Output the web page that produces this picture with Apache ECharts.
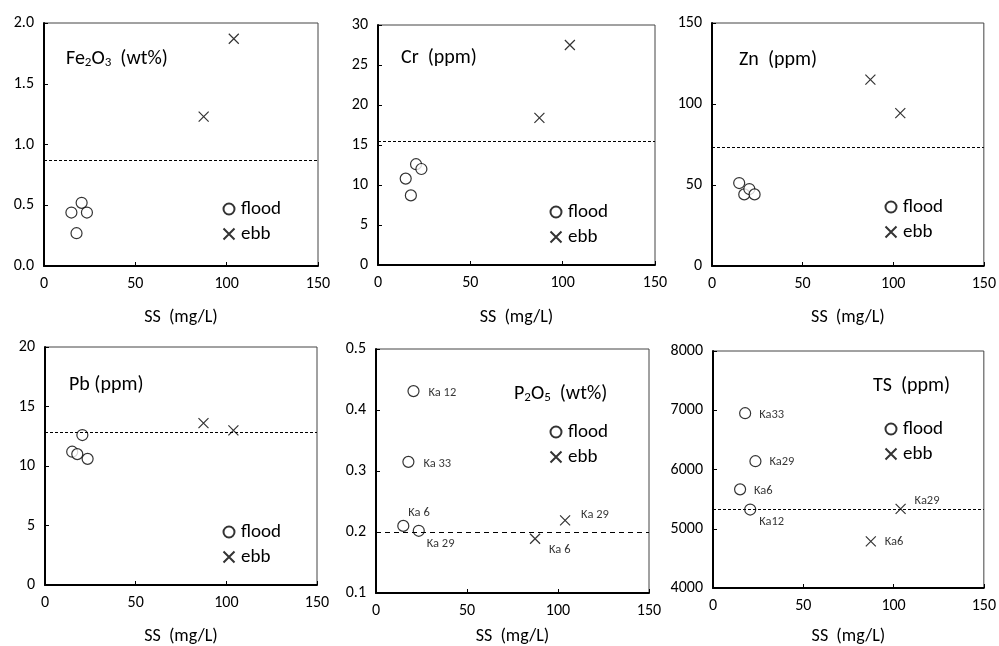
<!DOCTYPE html>
<html>
<head>
<meta charset="utf-8">
<script src="https://cdn.jsdelivr.net/npm/echarts@6/dist/echarts.min.js"></script>
<style>
  html, body { margin: 0; padding: 0; background: #fff; }
  #chart { width: 999px; height: 646px; }
</style>
</head>
<body>
<div id="chart"></div>
<script>
// SS (mg/L) of samples: flood = Ka6, Ka33, Ka12, Ka29 ; ebb = Ka6, Ka29
let ssFlood = [15.0, 17.8, 20.6, 23.5];
let ssEbb = [87.4, 103.9];
let xTicks = [0, 50, 100, 150];

let fe2o3Flood = [0.44, 0.27, 0.52, 0.44];
let fe2o3Ebb = [1.23, 1.87];
let fe2o3Ref = 0.87;

let crFlood = [10.8, 8.7, 12.6, 12.0];
let crEbb = [18.4, 27.5];
let crRef = 15.5;

let znFlood = [51.2, 44.2, 47.5, 44.2];
let znEbb = [115, 94.4];
let znRef = 73.3;

let pbFlood = [11.2, 11.0, 12.6, 10.6];
let pbEbb = [13.6, 13.0];
let pbRef = 12.8;

let p2o5Flood = [0.210, 0.315, 0.431, 0.202];
let p2o5Ebb = [0.189, 0.219];
let p2o5Ref = 0.2;
let p2o5FloodNames = ["Ka 6", "Ka 33", "Ka 12", "Ka 29"];
let p2o5EbbNames = ["Ka 6", "Ka 29"];

let tsFlood = [5665, 6950, 5324, 6140];
let tsEbb = [4788, 5335];
let tsRef = 5335;
let tsFloodNames = ["Ka6", "Ka33", "Ka12", "Ka29"];
let tsEbbNames = ["Ka6", "Ka29"];

// y tick settings per panel
let yMin = [0, 0, 0, 0, 0.1, 4000];
let yMax = [2, 30, 150, 20, 0.5, 8000];
let yStep = [0.5, 5, 50, 5, 0.1, 1000];

const FONT = "Carlito, Calibri, Lato, 'Noto Sans', sans-serif";
const CROSS = "path://M0,0L10,10M10,0L0,10";

// layout of the six plot boxes
let grids = [
  { left: 44, top: 23, width: 274, height: 243 },
  { left: 378, top: 25, width: 277, height: 240 },
  { left: 712, top: 23, width: 272, height: 243 },
  { left: 45, top: 347, width: 272, height: 241 },
  { left: 376, top: 349, width: 273, height: 244 },
  { left: 713, top: 351, width: 273, height: 238 },
];
let nameGaps = [42, 43, 42, 42, 34, 39];
let legendPos = [[228, 209], [555, 212], [890, 207], [228, 532], [555, 432], [890, 429]];
let titlePos = [[66, 57], [401, 56], [739, 58], [69, 383], [514, 392], [873, 384]];
let titleText = [
  "{n|Fe}{s|2}{n|O}{s|3}{n|  (wt%)}",
  "{n|Cr  (ppm)}",
  "{n|Zn  (ppm)}",
  "{n|Pb (ppm)}",
  "{n|P}{s|2}{n|O}{s|5}{n|  (wt%)}",
  "{n|TS  (ppm)}",
];

// label offsets (text left edge / middle, from point centre)
let p2o5FloodOff = [[5, -13], [15, 2], [15, 2], [8, 13]];
let p2o5EbbOff = [[14, 11], [16, -6]];
let tsFloodOff = [[14, 2], [14, 2], [9, 12], [14, 1]];
let tsEbbOff = [[14, 1], [14, -8]];

let floodVals = [fe2o3Flood, crFlood, znFlood, pbFlood, p2o5Flood, tsFlood];
let ebbVals = [fe2o3Ebb, crEbb, znEbb, pbEbb, p2o5Ebb, tsEbb];
let refVals = [fe2o3Ref, crRef, znRef, pbRef, p2o5Ref, tsRef];

function makeData(xs, ys, names, offs) {
  return xs.map(function (x, i) {
    let item = { value: [x, ys[i]] };
    if (names) {
      item.name = names[i];
      item.label = {
        show: true,
        position: "inside",
        align: "left",
        verticalAlign: "middle",
        offset: offs[i],
        formatter: "{b}",
        color: "#000",
        fontSize: 12.5,
        fontFamily: FONT,
      };
    }
    return item;
  });
}

let chart = echarts.init(document.getElementById("chart"));
let option = {
  animation: false,
  backgroundColor: "#fff",
  textStyle: { fontFamily: FONT },
  graphic: [],
  legend: [],
  grid: [],
  xAxis: [],
  yAxis: [],
  series: [],
};

for (let i = 0; i < 6; i++) {
  option.grid.push(Object.assign({ show: true, borderColor: "#444", borderWidth: 1 }, grids[i]));

  // panel title (with subscripts)
  option.graphic.push({
    type: "text",
    x: titlePos[i][0],
    y: titlePos[i][1],
    z: 10,
    style: {
      text: titleText[i],
      fill: "#000",
      align: "left",
      verticalAlign: "middle",
      rich: {
        n: { fontSize: 20, fontFamily: FONT, fill: "#000", lineHeight: 24, verticalAlign: "bottom" },
        s: { fontSize: 13, fontFamily: FONT, fill: "#000", lineHeight: 10, verticalAlign: "bottom" },
      },
    },
  });

  option.legend.push({
    orient: "vertical",
    left: legendPos[i][0] - 7,
    top: legendPos[i][1] - 11,
    padding: 0,
    itemGap: 3,
    itemWidth: 14,
    itemHeight: 11,
    data: ["flood", "ebb"],
    textStyle: { fontSize: 19, fontFamily: FONT, color: "#000", lineHeight: 22 },
  });

  option.xAxis.push({
    type: "value",
    gridIndex: i,
    min: xTicks[0],
    max: xTicks[xTicks.length - 1],
    interval: 50,
    name: "SS  (mg/L)",
    nameLocation: "middle",
    nameGap: nameGaps[i],
    nameTextStyle: { fontSize: 18, color: "#000", fontFamily: FONT },
    axisLine: { show: true, lineStyle: { color: "#000", width: 2 } },
    axisTick: { show: true, inside: true, length: 4, lineStyle: { color: "#000" } },
    axisLabel: { fontSize: 16, color: "#000", margin: 10, fontFamily: FONT },
    splitLine: { show: false },
  });

  option.yAxis.push({
    type: "value",
    gridIndex: i,
    min: yMin[i],
    max: yMax[i],
    interval: yStep[i],
    axisLine: { show: true, lineStyle: { color: "#000", width: 2 } },
    axisTick: { show: true, inside: true, length: 4, lineStyle: { color: "#000" } },
    axisLabel: {
      fontSize: 16,
      color: "#000",
      margin: 10,
      fontFamily: FONT,
      formatter: i === 0 ? function (v) { return v.toFixed(1); } : function (v) { return String(v); },
    },
    splitLine: { show: false },
  });

  let fNames = null, eNames = null, fOff = null, eOff = null;
  if (i === 4) { fNames = p2o5FloodNames; eNames = p2o5EbbNames; fOff = p2o5FloodOff; eOff = p2o5EbbOff; }
  if (i === 5) { fNames = tsFloodNames; eNames = tsEbbNames; fOff = tsFloodOff; eOff = tsEbbOff; }

  option.series.push({
    name: "flood",
    type: "scatter",
    xAxisIndex: i,
    yAxisIndex: i,
    symbol: "circle",
    symbolSize: 11,
    itemStyle: { color: "#fff", borderColor: "#000", borderWidth: 1.2 },
    data: makeData(ssFlood, floodVals[i], fNames, fOff),
    markLine: {
      silent: true,
      symbol: "none",
      label: { show: false },
      lineStyle: { color: "#000", width: 1, type: i === 4 ? [5, 4] : [3, 2] },
      data: [{ yAxis: refVals[i] }],
    },
  });
  option.series.push({
    name: "ebb",
    type: "scatter",
    xAxisIndex: i,
    yAxisIndex: i,
    symbol: CROSS,
    symbolSize: 10,
    itemStyle: { color: "none", borderColor: "#000", borderWidth: 1.2 },
    data: makeData(ssEbb, ebbVals[i], eNames, eOff),
  });
}

chart.setOption(option);
</script>
</body>
</html>
